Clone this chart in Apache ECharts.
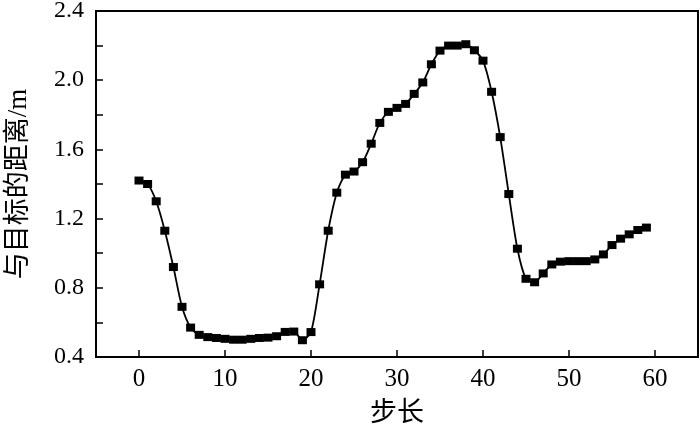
<!DOCTYPE html>
<html>
<head>
<meta charset="utf-8">
<script src="https://cdn.jsdelivr.net/npm/echarts@6/dist/echarts.min.js"></script>
<style>html,body{margin:0;padding:0;background:#fff;}#c{width:700px;height:427px;}</style>
</head>
<body>
<div id="c"></div>
<script>
var steps = [];
for (var i = 0; i < 60; i++) steps.push(i);
var distance = [
  1.42, 1.40, 1.30, 1.13, 0.92, 0.69, 0.57, 0.528, 0.515, 0.51,
  0.505, 0.50, 0.50, 0.505, 0.51, 0.512, 0.52, 0.545, 0.547, 0.497,
  0.544, 0.82, 1.13, 1.35, 1.454, 1.472, 1.526, 1.633, 1.753, 1.817,
  1.84, 1.863, 1.921, 1.987, 2.092, 2.171, 2.20, 2.20, 2.208, 2.173,
  2.113, 1.933, 1.671, 1.342, 1.026, 0.852, 0.832, 0.883, 0.935, 0.951,
  0.954, 0.954, 0.954, 0.964, 0.993, 1.047, 1.084, 1.109, 1.134, 1.148
];
var xTicks = [0, 10, 20, 30, 40, 50, 60];
var xName = '步长';
var yName = '与目标的距离/m';

var data = steps.map(function (s, i) { return [s, distance[i]]; });
var serif = '"Liberation Serif", "Noto Sans CJK SC", serif';
var chart = echarts.init(document.getElementById('c'), null, {renderer: 'canvas'});
chart.setOption({
  animation: false,
  backgroundColor: '#fff',
  grid: {left: 96, right: 2, top: 11, bottom: 70, show: true, borderColor: '#000', borderWidth: 2, backgroundColor: 'transparent', containLabel: false, outerBoundsMode: 'none'},
  xAxis: {
    type: 'value', min: -5, max: 65,
    name: xName, nameLocation: 'middle', nameGap: 43,
    nameTextStyle: {fontFamily: serif, fontSize: 27, color: '#000'},
    axisLine: {show: true, onZero: false, lineStyle: {color: '#000', width: 2}},
    axisTick: {show: true, inside: true, length: 7, lineStyle: {color: '#000', width: 1.5}, customValues: xTicks},
    axisLabel: {fontFamily: serif, fontSize: 25, color: '#000', margin: 10, customValues: xTicks},
    splitLine: {show: false}
  },
  yAxis: {
    type: 'value', min: 0.4, max: 2.4, interval: 0.4,
    name: yName, nameLocation: 'middle', nameGap: 64, nameRotate: 90,
    nameTextStyle: {fontFamily: serif, fontSize: 27, color: '#000'},
    axisLine: {show: true, onZero: false, lineStyle: {color: '#000', width: 2}},
    axisTick: {show: true, inside: true, length: 7, lineStyle: {color: '#000', width: 1.5}},
    minorTick: {show: true, splitNumber: 2, length: 7, lineStyle: {color: '#000', width: 1.5}},
    axisLabel: {fontFamily: serif, fontSize: 24, color: '#000', margin: 12, formatter: function (v) { return v.toFixed(1); }},
    splitLine: {show: false}
  },
  series: [{
    type: 'line', data: data, smooth: 0.25,
    symbol: 'rect', symbolSize: [9, 8],
    lineStyle: {color: '#000', width: 1.8},
    itemStyle: {color: '#000'}
  }]
});
</script>
</body>
</html>
